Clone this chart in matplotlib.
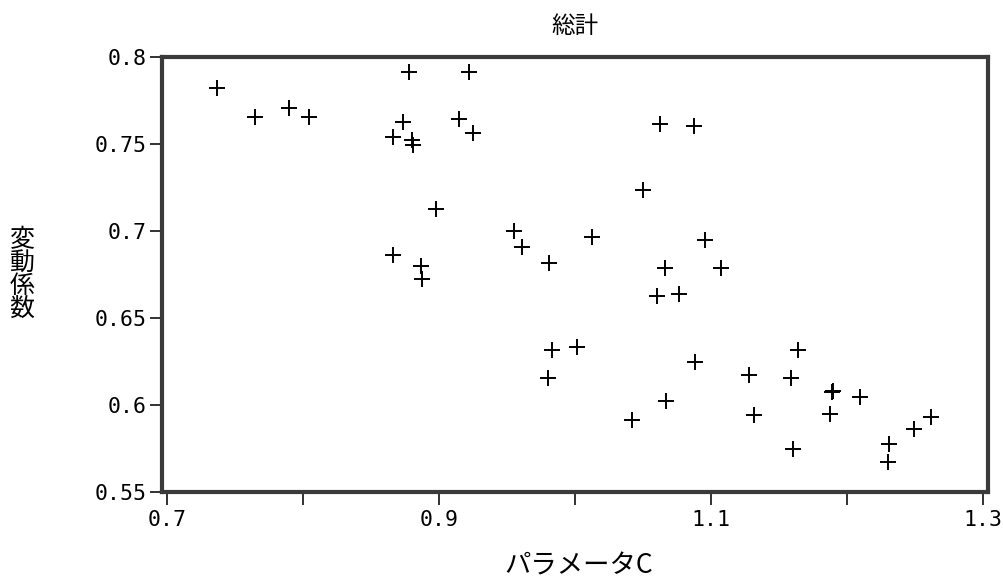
"""
Scatter of coefficient of variation vs parameter C (総計)
"""
import matplotlib
matplotlib.use('Agg')
import matplotlib.pyplot as plt

# Data
param_c = [0.7365, 0.7646, 0.7900, 0.8044, 0.8778, 0.9218, 0.8734, 0.8660,
           0.8800, 0.8807, 0.9150, 0.9247, 0.8974, 0.8665, 0.8869, 0.8876,
           0.9553, 0.9610, 0.9810, 1.0622, 1.0874, 1.0502, 1.0128, 1.0952,
           1.0661, 1.1074, 1.0605, 1.0764, 0.9834, 0.9798, 1.0018, 1.0881,
           1.0417, 1.0666, 1.1282, 1.1314, 1.1639, 1.1591, 1.1602, 1.1889,
           1.1895, 1.1877, 1.2097, 1.2312, 1.2299, 1.2495, 1.2618]
cv = [0.7818, 0.7655, 0.7707, 0.7655, 0.7914, 0.7910, 0.7623, 0.7540,
      0.7521, 0.7493, 0.7642, 0.7563, 0.7123, 0.6864, 0.6797, 0.6722,
      0.6998, 0.6908, 0.6813, 0.7613, 0.7602, 0.7234, 0.6962, 0.6947,
      0.6787, 0.6787, 0.6626, 0.6636, 0.6318, 0.6157, 0.6333, 0.6244,
      0.5916, 0.6023, 0.6171, 0.5941, 0.6314, 0.6155, 0.5745, 0.6075,
      0.6082, 0.5950, 0.6046, 0.5774, 0.5672, 0.5864, 0.5931]

x_ticks = [0.7, 0.8, 0.9, 1.0, 1.1, 1.2, 1.3]
x_tick_labels = ['0.7', '', '0.9', '', '1.1', '', '1.3']
y_ticks = [0.55, 0.6, 0.65, 0.7, 0.75, 0.8]
y_tick_labels = ['0.55', '0.6', '0.65', '0.7', '0.75', '0.8']

jp_font = ['Noto Sans CJK JP', 'DejaVu Sans']
tick_font = 'DejaVu Sans Mono'

fig = plt.figure(figsize=(10.04, 5.86), dpi=100)
ax = fig.add_axes([0.1614, 0.1604, 0.8227, 0.7428])

ax.plot(param_c, cv, linestyle='none', marker='+', markersize=11,
        markeredgewidth=1.4, color='black')

ax.set_xlim(0.6963, 1.3037)
ax.set_ylim(0.55, 0.8)

ax.set_xticks(x_ticks)
ax.set_xticklabels(x_tick_labels, family=tick_font, fontsize=15.5)
ax.set_yticks(y_ticks)
ax.set_yticklabels(y_tick_labels, family=tick_font, fontsize=15.5)
ax.tick_params(axis='y', direction='out', length=9, width=1.3,
               color='#222222', pad=2)
ax.tick_params(axis='x', direction='out', length=9, width=1.3,
               color='#222222', pad=4)

for side in ax.spines.values():
    side.set_linewidth(3)
    side.set_color('#3a3a3a')

# Title and axis labels placed like the original
fig.text(0.573, 0.954, '総計', family=jp_font, fontsize=17,
         ha='center', va='center')
fig.text(0.576, 0.034, 'パラメータC', family=jp_font, fontsize=19,
         ha='center', va='center')
fig.text(0.022, 0.532, '変\n動\n係\n数', family=jp_font, fontsize=18,
         ha='center', va='center', linespacing=0.85)

fig.savefig('out.png', dpi=100)
plt.close(fig)
